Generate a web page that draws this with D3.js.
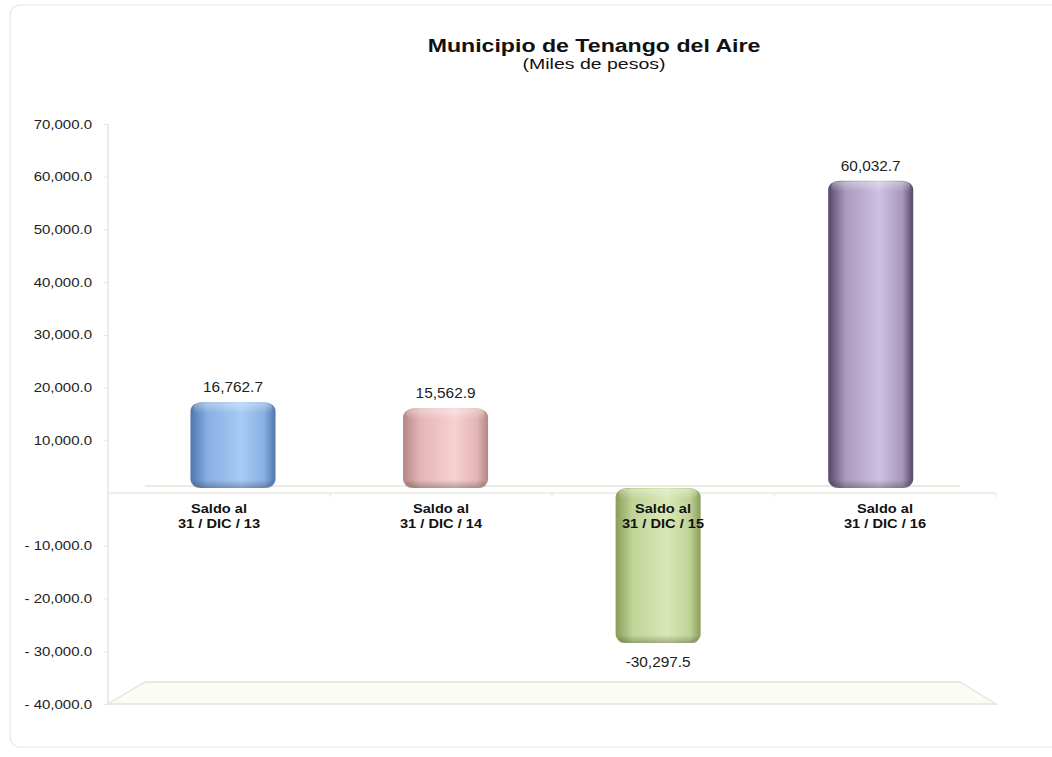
<!DOCTYPE html>
<html><head><meta charset="utf-8">
<script src="https://cdn.jsdelivr.net/npm/d3@7"></script>
<style>html,body{margin:0;padding:0;background:#fff;}svg{display:block;font-family:"Liberation Sans",Arial,sans-serif;}</style>
</head><body>
<svg id="c" width="1052" height="757"></svg>
<script>
const categories = [["Saldo al","31 / DIC / 13"],["Saldo al","31 / DIC / 14"],["Saldo al","31 / DIC / 15"],["Saldo al","31 / DIC / 16"]];
const values = [16762.7, 15562.9, -30297.5, 60032.7];
const valueLabels = ["16,762.7","15,562.9","-30,297.5","60,032.7"];
const tickValues = [70000,60000,50000,40000,30000,20000,10000,-10000,-20000,-30000,-40000];
const tickLabels = ["70,000.0","60,000.0","50,000.0","40,000.0","30,000.0","20,000.0","10,000.0","- 10,000.0","- 20,000.0","- 30,000.0","- 40,000.0"];
const barColors = [
  {dark:"#4f77ad", mid:"#88afe2", light:"#a8cbf6"},
  {dark:"#b48584", mid:"#e3b6b5", light:"#f6d2d1"},
  {dark:"#8a9d5a", mid:"#c0d497", light:"#d9e7b6"},
  {dark:"#56486a", mid:"#a898bd", light:"#cfc1e2"}
];

const svg = d3.select("#c");
const defs = svg.append("defs");

// helper: horizontally stretched text (the reference glyphs are wider than Arial)
function stext(parent, x, y, sx, txt, attrs) {
  const g = parent.append("g").attr("transform", `translate(${x},${y}) scale(${sx},1)`);
  const t = g.append("text").attr("x",0).attr("y",0).text(txt);
  Object.entries(attrs).forEach(([k,v])=>t.attr(k,v));
  return t;
}

// outer frame
svg.append("rect").attr("x",10).attr("y",5).attr("width",1060).attr("height",742)
  .attr("rx",10).attr("fill","#fff").attr("stroke","#e6e6e6").attr("stroke-width",1.2);

// title
stext(svg, 594, 52, 1.25, "Municipio de Tenango del Aire",
  {"text-anchor":"middle","font-size":18.5,"font-weight":"bold","fill":"#111"});
stext(svg, 594, 69, 1.3, "(Miles de pesos)",
  {"text-anchor":"middle","font-size":15,"fill":"#111"});

// scales
const y = d3.scaleLinear().domain([-40000,70000]).range([704,124]);
const yBar = d3.scaleLinear().domain([-40000,70000]).range([692.8,129.6]);
const xFront = d3.scaleBand().domain(d3.range(categories.length)).range([108,996]);
const xBar = d3.scaleBand().domain(d3.range(categories.length)).range([126.7,977]).paddingInner(0.6).paddingOuter(0.3);

const lineCol = "#e4e4d8";
// floor (3D)
svg.append("path").attr("d", `M108,${y(-40000)} L145,682 L960,682 L996,${y(-40000)} Z`)
  .attr("fill","#fcfcf6").attr("stroke",lineCol).attr("stroke-width",1.3);
// back baseline
svg.append("line").attr("x1",145).attr("x2",960).attr("y1",yBar(0)-2).attr("y2",yBar(0)-2)
  .attr("stroke",lineCol).attr("stroke-width",1.3);

// y axis
const yAxis = d3.axisLeft(y).tickValues(tickValues).tickSize(4).tickFormat(()=> "");
const gy = svg.append("g").attr("transform","translate(108,0)").call(yAxis);
gy.select(".domain").attr("stroke",lineCol).attr("stroke-width",1.3).attr("d","M0,124V704");
gy.selectAll(".tick line").attr("stroke",lineCol);
tickValues.forEach((v,i)=>{
  stext(svg, 92, y(v)+4.5, 1.2, tickLabels[i], {"text-anchor":"end","font-size":12.5,"fill":"#222"});
});

// x axis at zero
svg.append("line").attr("x1",108).attr("x2",996).attr("y1",y(0)).attr("y2",y(0))
  .attr("stroke",lineCol).attr("stroke-width",1.3);
svg.selectAll(".xt").data(d3.range(1,categories.length+1)).enter().append("line")
  .attr("x1",i=>108+i*xFront.step()).attr("x2",i=>108+i*xFront.step())
  .attr("y1",y(0)).attr("y2",y(0)+4).attr("stroke",lineCol);

// gradients
barColors.forEach((c,i)=>{
  const g = defs.append("linearGradient").attr("id","g"+i).attr("x1","0").attr("x2","1").attr("y1","0").attr("y2","0");
  g.append("stop").attr("offset","0").attr("stop-color",c.dark);
  g.append("stop").attr("offset","0.2").attr("stop-color",c.mid);
  g.append("stop").attr("offset","0.6").attr("stop-color",c.light);
  g.append("stop").attr("offset","0.87").attr("stop-color",c.mid);
  g.append("stop").attr("offset","1").attr("stop-color",c.dark);
});
const tg = defs.append("linearGradient").attr("id","topg").attr("x1","0").attr("x2","0").attr("y1","0").attr("y2","1");
tg.append("stop").attr("offset","0").attr("stop-color","#fff").attr("stop-opacity",0.35);
tg.append("stop").attr("offset","1").attr("stop-color","#fff").attr("stop-opacity",0);
const bg = defs.append("linearGradient").attr("id","botg").attr("x1","0").attr("x2","0").attr("y1","0").attr("y2","1");
bg.append("stop").attr("offset","0").attr("stop-color","#000").attr("stop-opacity",0);
bg.append("stop").attr("offset","1").attr("stop-color","#000").attr("stop-opacity",0.25);

// bars
const bars = svg.selectAll(".bar").data(values).enter().append("g");
bars.append("rect")
  .attr("x",(d,i)=>xBar(i)).attr("width",xBar.bandwidth())
  .attr("y",d=>Math.min(yBar(d),yBar(0))).attr("height",d=>Math.abs(yBar(d)-yBar(0)))
  .attr("rx",11).attr("ry",9).attr("fill",(d,i)=>`url(#g${i})`);
bars.append("rect")
  .attr("x",(d,i)=>xBar(i)+3).attr("width",xBar.bandwidth()-6)
  .attr("y",d=>Math.min(yBar(d),yBar(0))+1).attr("height",10)
  .attr("rx",6).attr("fill","url(#topg)");
bars.append("rect")
  .attr("x",(d,i)=>xBar(i)+2).attr("width",xBar.bandwidth()-4)
  .attr("y",d=>Math.max(yBar(d),yBar(0))-8).attr("height",8)
  .attr("rx",6).attr("fill","url(#botg)");

// value labels
values.forEach((d,i)=>{
  stext(svg, xBar(i)+xBar.bandwidth()/2, d>=0 ? yBar(d)-10 : yBar(d)+24, 1.1, valueLabels[i],
    {"text-anchor":"middle","font-size":14,"fill":"#222"});
});

// category labels
categories.forEach((c,i)=>{
  const cx = xFront(i)+xFront.bandwidth()/2;
  stext(svg, cx, y(0)+20, 1.17, c[0], {"text-anchor":"middle","font-size":12.5,"font-weight":"bold","fill":"#111"});
  stext(svg, cx, y(0)+35, 1.17, c[1], {"text-anchor":"middle","font-size":12.5,"font-weight":"bold","fill":"#111"});
});
</script>
</body></html>
